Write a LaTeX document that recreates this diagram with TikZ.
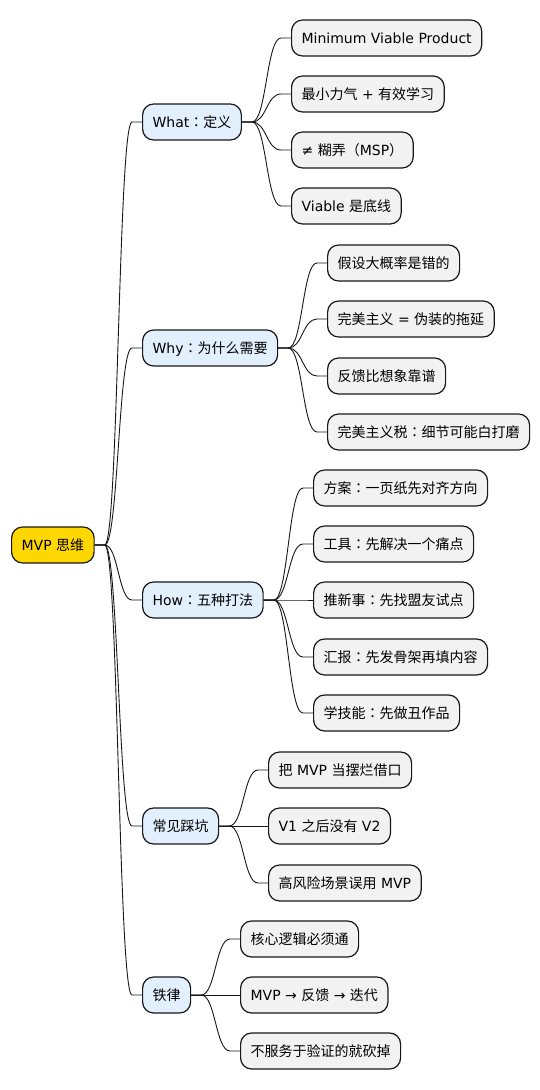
\documentclass[tikz,border=0pt]{standalone}
\usepackage{fontspec}
\setmainfont{DejaVu Sans}
\newfontfamily\cjk{Noto Sans CJK SC}
\newfontfamily\cjktc{Noto Sans CJK TC}
\usetikzlibrary{calc}
\definecolor{rootc}{HTML}{FFD700}
\definecolor{lone}{HTML}{E2EFFC}
\definecolor{ltwo}{HTML}{F2F2F2}
\definecolor{bord}{HTML}{181818}
\newcommand\zh[1]{{\cjk #1}}
\newcommand\cc{{\cjktc ：}}
\tikzset{
 box/.style={draw=bord, line width=1.2pt, rounded corners=11pt, anchor=west, minimum height=36pt, inner xsep=10pt, inner ysep=0pt, font=\fontsize{14pt}{16pt}\selectfont, text height=13.2pt, text depth=3pt},
 rootbox/.style={box, fill=rootc},
 onebox/.style={box, fill=lone},
 twobox/.style={box, fill=ltwo},
 edge/.style={draw=bord, line width=0.9pt},
}
\newcommand\mmlink[2]{\draw[edge] let \p1=(#1.east), \p2=(#2.west) in (\p1) -- ++(10pt,0) .. controls ({0.5*\x1+0.5*\x2},\y1) and ({0.5*\x1+0.5*\x2},\y2) .. (\x2-10pt,\y2) -- (\p2);}
\begin{document}
\begin{tikzpicture}[x=1pt,y=-1pt]
\useasboundingbox[fill=white] (0,0) rectangle (540,1090);
% root
\node[rootbox] (root) at (11,545) {MVP \zh{思维}};
% level 1
\node[onebox] (what) at (142,122) {What\cc\zh{定义}};
\node[onebox] (why) at (142,348) {Why\cc\zh{为什么需要}};
\node[onebox] (how) at (142,600) {How\cc\zh{五种打法}};
\node[onebox] (pit) at (142,826) {\zh{常见踩坑}};
\node[onebox] (law) at (142,995) {\zh{铁律}};
% what
\node[twobox] (w1) at (291,38) {Minimum Viable Product};
\node[twobox] (w2) at (291,94) {\zh{最小力气} + \zh{有效学习}};
\node[twobox] (w3) at (291,150) {≠ \zh{糊弄（}MSP\zh{）}};
\node[twobox] (w4) at (291,206) {Viable \zh{是底线}};
% why
\node[twobox] (y1) at (327,263) {\zh{假设大概率是错的}};
\node[twobox] (y2) at (327,319) {\zh{完美主义} = \zh{伪装的拖延}};
\node[twobox] (y3) at (327,376) {\zh{反馈比想象靠谱}};
\node[twobox] (y4) at (327,432) {\zh{完美主义税}\cc\zh{细节可能白打磨}};
% how
\node[twobox] (h1) at (313,488) {\zh{方案}\cc\zh{一页纸先对齐方向}};
\node[twobox] (h2) at (313,544) {\zh{工具}\cc\zh{先解决一个痛点}};
\node[twobox] (h3) at (313,600) {\zh{推新事}\cc\zh{先找盟友试点}};
\node[twobox] (h4) at (313,657) {\zh{汇报}\cc\zh{先发骨架再填内容}};
\node[twobox] (h5) at (313,713) {\zh{学技能}\cc\zh{先做丑作品}};
% pitfalls
\node[twobox] (p1) at (268,770) {\zh{把} MVP \zh{当摆烂借口}};
\node[twobox] (p2) at (268,826) {V1 \zh{之后没有} V2};
\node[twobox] (p3) at (268,883) {\zh{高风险场景误用} MVP};
% laws
\node[twobox] (l1) at (240,939) {\zh{核心逻辑必须通}};
\node[twobox] (l2) at (240,995) {MVP → \zh{反馈} → \zh{迭代}};
\node[twobox] (l3) at (240,1051) {\zh{不服务于验证的就砍掉}};
% connectors
\mmlink{root}{what}\mmlink{root}{why}\mmlink{root}{how}\mmlink{root}{pit}\mmlink{root}{law}
\mmlink{what}{w1}\mmlink{what}{w2}\mmlink{what}{w3}\mmlink{what}{w4}
\mmlink{why}{y1}\mmlink{why}{y2}\mmlink{why}{y3}\mmlink{why}{y4}
\mmlink{how}{h1}\mmlink{how}{h2}\mmlink{how}{h3}\mmlink{how}{h4}\mmlink{how}{h5}
\mmlink{pit}{p1}\mmlink{pit}{p2}\mmlink{pit}{p3}
\mmlink{law}{l1}\mmlink{law}{l2}\mmlink{law}{l3}
\end{tikzpicture}
\end{document}
